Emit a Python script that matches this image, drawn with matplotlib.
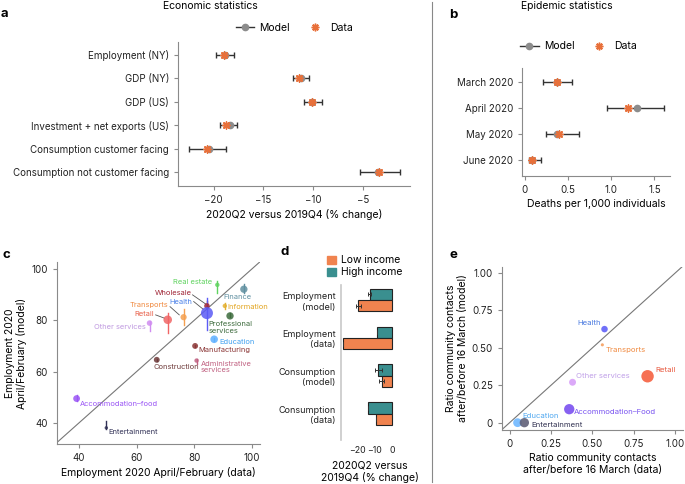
import matplotlib
matplotlib.use("Agg")
import matplotlib.pyplot as plt
from matplotlib.lines import Line2D
from matplotlib.patches import Patch
import numpy as np

plt.rcParams['font.family'] = ['Inter', 'DejaVu Sans']

# ---- panel a: economic statistics ----
econ_labels = ["Employment (NY)", "GDP (NY)", "GDP (US)", "Investment + net exports (US)",
               "Consumption customer facing", "Consumption not customer facing"]
econ_model = [-18.9, -11.2, -10.1, -18.4, -20.5, -3.5]
econ_data = [-19.0, -11.4, -10.1, -18.8, -20.7, -3.4]
econ_lo = [-19.8, -12.0, -10.9, -19.4, -22.5, -5.3]
econ_hi = [-18.0, -10.4, -9.1, -17.7, -18.8, -1.3]

# ---- panel b: epidemic statistics ----
epi_labels = ["March 2020", "April 2020", "May 2020", "June 2020"]
epi_model = [0.38, 1.30, 0.38, 0.09]
epi_data = [0.38, 1.19, 0.40, 0.09]
epi_lo = [0.21, 0.95, 0.25, 0.05]
epi_hi = [0.55, 1.61, 0.63, 0.19]

# ---- panel c: employment by sector ----
sectors = ["Real estate", "Finance", "Wholesale", "Health", "Information", "Professional\nservices",
           "Transports", "Retail", "Other services", "Education", "Manufacturing",
           "Administrative\nservices", "Construction", "Accommodation\u2013food", "Entertainment"]
emp_data = [88.0, 97.2, 84.4, 84.4, 90.6, 92.4, 76.3, 70.8, 64.5, 86.9, 80.3, 80.8, 67.0, 39.2, 49.5]
emp_model = [93.8, 92.1, 85.6, 82.8, 85.6, 81.7, 81.2, 80.2, 78.9, 72.6, 70.0, 64.3, 64.6, 49.5, 38.1]
emp_lo = [90.5, 90.5, 84.7, 76.3, 84.3, 81.2, 78.2, 75.2, 75.9, 72.0, 69.5, 63.0, 64.0, 48.4, 37.6]
emp_hi = [95.4, 94.2, 87.5, 88.6, 86.7, 82.8, 84.3, 82.8, 79.8, 73.2, 70.5, 65.0, 65.0, 51.0, 40.6]
emp_size = [10, 28, 16, 75, 10, 28, 20, 38, 16, 30, 18, 10, 18, 24, 6]
emp_color = ["#5fd35f", "#5f8fa0", "#a02535", "#5b5bf5", "#e3b030", "#3d6b3d", "#f5a050", "#f06565",
             "#d08cf0", "#5fb0ff", "#8a3535", "#c06080", "#6e3a3a", "#9a55f5", "#303055"]
emp_text_color = ["#5fd35f", "#5f8fa0", "#a02535", "#4a80e8", "#e3a520", "#3d6b3d", "#f08a40", "#e8604a",
                  "#c09ae0", "#40a0f0", "#8a3535", "#c06080", "#6e3a3a", "#9a55f5", "#303055"]
emp_text_xy = [(86.3, 95.1), (90.1, 89.2), (79.2, 90.5), (79.2, 87.3), (91.5, 85.3), (85.0, 77.2),
               (71.1, 86.0), (66.2, 82.6), (63.3, 77.5), (88.8, 71.7), (81.5, 68.5), (82.2, 61.7),
               (65.9, 61.7), (40.3, 47.4), (50.2, 36.3)]
emp_text_ha = ["right", "left", "right", "right", "left", "left", "right", "right", "right", "left",
               "left", "left", "left", "left", "left"]
# leader lines: (label end) -> (marker)
leaders = {"Wholesale": ((79.4, 89.9), (84.0, 86.3)), "Health": ((79.8, 87.3), (83.1, 84.3)),
           "Transports": ((71.6, 85.3), (74.8, 82.1)), "Retail": ((66.6, 82.1), (69.7, 80.8))}

# ---- panel d: by income ----
inc_cats = ["Employment\n(model)", "Employment\n(data)", "Consumption\n(model)", "Consumption\n(data)"]
inc_high = [-13.0, -8.7, -8.0, -13.9]
inc_low = [-19.4, -28.3, -6.1, -9.5]
inc_high_err = [1.0, 0, 2.0, 0]
inc_low_err = [1.5, 0, 1.5, 0]

# ---- panel e: community contacts ----
cont_labels = ["Health", "Transports", "Retail", "Other services", "Accommodation\u2013Food",
               "Education", "Entertainment"]
cont_data = [0.573, 0.56, 0.833, 0.38, 0.36, 0.048, 0.089]
cont_model = [0.625, 0.52, 0.31, 0.27, 0.09, 0.0, 0.0]
cont_size = [22, 5, 80, 25, 55, 40, 45]
cont_color = ["#6060f8", "#f5a060", "#f56040", "#d8a0f8", "#7a50f0", "#70b8ff", "#606078"]
cont_text_color = ["#4a7ae0", "#f08a40", "#e85a40", "#c0a0e8", "#7a55f0", "#50a8f0", "#303050"]
cont_text_xy = [(0.55, 0.667), (0.582, 0.487), (0.879, 0.351), (0.402, 0.311), (0.386, 0.069),
                (0.075, 0.045), (0.129, -0.015)]
cont_text_ha = ["right", "left", "left", "left", "left", "left", "left"]

W, H = 685, 484
fig = plt.figure(figsize=(W / 100, H / 100), dpi=100)


def add_ax(l, t, r, b):
    return fig.add_axes([l / W, 1 - b / H, (r - l) / W, (b - t) / H])


def style(ax):
    for s in ["top", "right"]:
        ax.spines[s].set_visible(False)
    for s in ["left", "bottom"]:
        ax.spines[s].set_color("#8a8a8a")
        ax.spines[s].set_linewidth(0.8)
    ax.tick_params(colors="#8a8a8a", labelcolor="#222222", labelsize=7, length=3, width=0.8)


model_c = "#8c8c8c"
data_c = "#e8703a"
star = (8, 2, 0)


def forest(ax, labels, model, data, lo, hi):
    y = np.arange(len(labels))
    model = np.array(model)
    ax.errorbar(model, y, xerr=[model - np.array(lo), np.array(hi) - model], fmt="o", color=model_c,
                ms=4.5, ecolor="#333333", elinewidth=1.0, capsize=2, capthick=1.0, zorder=2)
    ax.scatter(data, y, marker=star, s=26, color=data_c, linewidths=1.1, zorder=3)
    ax.set_yticks(y)
    ax.set_yticklabels(labels, fontsize=6.5)
    ax.invert_yaxis()
    style(ax)


leg_handles = [Line2D([], [], color="#333333", lw=1.0, marker="o", mfc=model_c, mec=model_c, ms=4.5),
               Line2D([], [], ls="none", marker=star, color=data_c, mew=1.1, ms=5.5)]

# panel a
axa = add_ax(178, 42, 410, 186)
forest(axa, econ_labels, econ_model, econ_data, econ_lo, econ_hi)
axa.set_ylim(5.6, -0.55)
axa.set_xlim(-23.56, -0.33)
axa.set_xticks([-20, -15, -10, -5])
axa.set_xlabel("2020Q2 versus 2019Q4 (% change)", fontsize=7.5, labelpad=3)
axa.legend(leg_handles, ["Model", "Data"], loc="center", bbox_to_anchor=(0.5, 1.1), ncol=2,
           frameon=False, fontsize=7.5, handlelength=1.8, columnspacing=1.5, handletextpad=0.5)

# panel b
axb = add_ax(522, 68, 670, 176)
forest(axb, epi_labels, epi_model, epi_data, epi_lo, epi_hi)
axb.set_ylim(3.6, -0.55)
axb.set_xlim(-0.03, 1.68)
axb.set_xticks([0, 0.5, 1.0, 1.5])
axb.set_xticklabels(["0", "0.5", "1.0", "1.5"])
axb.set_xlabel("Deaths per 1,000 individuals", fontsize=7.5, labelpad=3)
axb.legend(leg_handles, ["Model", "Data"], loc="center", bbox_to_anchor=(0.38, 1.2), ncol=2,
           frameon=False, fontsize=7.5, handlelength=1.8, columnspacing=1.5, handletextpad=0.5)

# panel c
axc = add_ax(57, 262, 260, 444)
style(axc)
axc.set_xlim(32.4, 102.8)
axc.set_ylim(31.8, 102.7)
axc.axline((40, 40), slope=1, color="#777777", lw=0.8, zorder=0)
for i, name in enumerate(sectors):
    axc.plot([emp_data[i], emp_data[i]], [emp_lo[i], emp_hi[i]], color=emp_color[i], lw=1.0, zorder=2)
    axc.scatter(emp_data[i], emp_model[i], s=emp_size[i], color=emp_color[i], alpha=0.85,
                edgecolors="none", zorder=3)
    axc.text(emp_text_xy[i][0], emp_text_xy[i][1], name, ha=emp_text_ha[i], va="center",
             fontsize=5.4, color=emp_text_color[i], linespacing=1.1)
    if name in leaders:
        (x0, y0), (x1, y1) = leaders[name]
        axc.plot([x0, x1], [y0, y1], color="#555555", lw=0.6, zorder=1)
axc.set_xticks([40, 60, 80, 100])
axc.set_yticks([40, 60, 80, 100])
axc.set_xlabel("Employment 2020 April/February (data)", fontsize=7.5, labelpad=3)
axc.set_ylabel("Employment 2020\nApril/February (model)", fontsize=7.5, labelpad=3)

# panel d
axd = add_ax(341, 285, 398, 440)
yd = np.arange(len(inc_cats))
axd.barh(yd - 0.15, inc_high, height=0.3, color="#3a8f8f", edgecolor="#222222", lw=0.8,
         xerr=inc_high_err, error_kw=dict(ecolor="#333333", elinewidth=0.7, capsize=1.2, capthick=0.7))
axd.barh(yd + 0.15, inc_low, height=0.3, color="#f0834f", edgecolor="#222222", lw=0.8,
         xerr=inc_low_err, error_kw=dict(ecolor="#333333", elinewidth=0.7, capsize=1.2, capthick=0.7))
axd.set_ylim(3.7, -0.4)
axd.set_xlim(-29.3, 3.3)
style(axd)
axd.spines["bottom"].set_visible(False)
axd.spines["left"].set_color("#c8c8c8")
axd.spines["left"].set_linewidth(1.2)
axd.tick_params(axis="y", length=0, pad=4)
axd.tick_params(axis="x", length=0, pad=4, labelsize=6.3)
axd.set_yticks(yd)
axd.set_yticklabels(inc_cats, fontsize=6.5, ha="right")
axd.set_xticks([-20, -10, 0])
axd.set_xlabel("2020Q2 versus\n2019Q4 (% change)", fontsize=7.5, labelpad=4)
fig.legend([Patch(color="#f0834f"), Patch(color="#3a8f8f")], ["Low income", "High income"],
           loc="upper left", bbox_to_anchor=(322 / W, 1 - 250 / H), frameon=False, fontsize=7.5,
           handlelength=0.8, handleheight=0.8, handletextpad=0.5, labelspacing=0.2, borderpad=0)

# panel e
axe = add_ax(502, 267, 683, 430)
style(axe)
axe.set_xlim(-0.046, 1.047)
axe.set_ylim(-0.049, 1.04)
axe.axline((0, 0), slope=1, color="#777777", lw=0.8, zorder=0)
for i, name in enumerate(cont_labels):
    axe.scatter(cont_data[i], cont_model[i], s=cont_size[i], color=cont_color[i], alpha=0.9,
                edgecolors="none", zorder=3)
    axe.text(cont_text_xy[i][0], cont_text_xy[i][1], name, ha=cont_text_ha[i], va="center",
             fontsize=5.6, color=cont_text_color[i])
ticks = [0, 0.25, 0.5, 0.75, 1.0]
axe.set_xticks(ticks)
axe.set_xticklabels(["0", "0.25", "0.50", "0.75", "1.00"])
axe.set_yticks(ticks)
axe.set_yticklabels(["0", "0.25", "0.50", "0.75", "1.00"])
axe.set_xlabel("Ratio community contacts\nafter/before 16 March (data)", fontsize=7.5, labelpad=3)
axe.set_ylabel("Ratio community contacts\nafter/before 16 March (model)", fontsize=7.5, labelpad=3)

# titles, panel letters, separator
fig.text(210 / W, 1 - 6 / H, "Economic statistics", ha="center", va="center", fontsize=7.5)
fig.text(567 / W, 1 - 6 / H, "Epidemic statistics", ha="center", va="center", fontsize=7.5)
for lbl, x, y in [("a", 4, 14), ("b", 453, 15), ("c", 6, 255), ("d", 285, 252), ("e", 453, 255)]:
    fig.text(x / W, 1 - y / H, lbl, ha="center", va="center", fontsize=9.5, fontweight="bold")
fig.add_artist(Line2D([432 / W, 432 / W], [1 - 482 / H, 1 - 2 / H], color="#888888", lw=0.8))

fig.savefig("out.png", dpi=100)
